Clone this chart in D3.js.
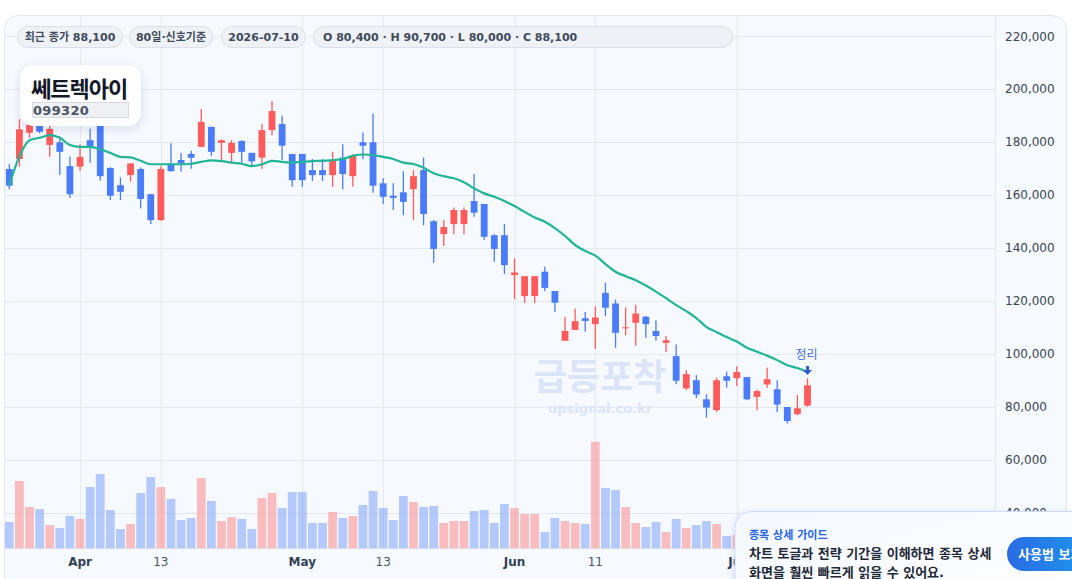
<!DOCTYPE html>
<html>
<head>
<meta charset="utf-8">
<script src="https://cdn.jsdelivr.net/npm/d3@7"></script>
<style>
  body { margin: 0; background: #ffffff; font-family: "DejaVu Sans", "Noto Sans CJK KR", sans-serif; }
  svg { display: block; }
</style>
</head>
<body>
<svg width="1072" height="579"></svg>
<script>
// daily candles, 80 trading days ending 2026-07-10
var opens = [169800,173600,183500,186500,178900,179900,170900,170700,180700,188000,
  170200,163700,167500,169800,160300,150500,171900,173200,175500,178200,
  185700,179700,175900,180400,175900,174100,184500,186800,175500,175500,
  169400,169400,167500,174100,167100,179900,179900,164400,159700,161000,
  162200,169400,150100,145200,149000,149000,157700,156600,144800,144800,
  129700,121800,121800,131000,123700,104900,109000,113400,111200,123000,
  119000,109700,111700,114000,108600,104100,99100,86900,90000,82800,
  78700,91500,90800,91200,83700,88400,86600,79900,77200,80400];
var highs = [171700,188600,189000,188000,187000,182000,174400,179200,185000,190000,
  170500,166600,172100,170400,160500,170900,179500,175900,176700,192500,
  185900,181000,180700,180700,176000,186800,195500,189900,175500,175500,
  173600,173600,176300,179200,175400,183600,190800,166300,164400,169000,
  169400,174100,150500,150500,155300,155300,167900,156600,145200,149000,
  136000,129300,129300,132900,123700,114000,117100,115800,118000,126800,
  120500,117500,118400,114300,112700,106700,103500,93800,91900,84700,
  91000,93200,95300,91200,86500,94700,90000,79900,84400,90700];
var lows = [162200,170700,181600,183300,174400,167500,158900,169100,172200,165400,
  158100,158100,165000,154900,149000,150300,168800,168800,169900,178000,
  174800,173200,172200,172200,171300,169800,182600,173200,163100,163100,
  165300,165300,163100,162200,163100,173500,160800,156600,154300,152400,
  150500,148600,134400,140700,145200,145200,151800,143000,134800,130100,
  120600,119200,119200,123600,115800,104900,109000,108300,101800,114300,
  102300,107000,103000,106100,104900,100700,88500,86300,83300,75900,
  78000,87300,87800,82500,78700,87100,78000,73700,76800,80000];
var closes = [163500,184800,186500,183900,185000,176300,160300,174400,178200,167100,
  159700,161200,171900,158500,150500,169800,169000,171900,174100,187600,
  176300,180700,179700,176300,172700,184500,191700,178600,165600,165600,
  167500,167500,173200,167900,174700,178600,163500,159300,158900,157400,
  167100,152800,139600,147900,154300,154300,153300,144200,139600,133500,
  130700,129300,129300,124900,119300,108600,112300,112400,113700,117400,
  107900,110000,115200,111200,106700,105100,89800,92300,84600,79700,
  90000,89800,93100,82800,85900,90400,80800,74600,79400,88100];
var volumes = [263000,673000,413000,393000,233000,203000,323000,293000,613000,743000,
  383000,193000,243000,553000,713000,613000,493000,283000,303000,703000,
  473000,273000,313000,293000,193000,503000,553000,403000,563000,563000,
  253000,253000,363000,303000,323000,433000,573000,403000,283000,523000,
  463000,413000,423000,253000,273000,273000,373000,383000,253000,443000,
  403000,343000,343000,163000,303000,273000,253000,243000,1066000,603000,
  583000,413000,253000,213000,263000,163000,293000,203000,233000,273000,
  243000,123000,133000,250000,220000,200000,300000,280000,240000,350000];
// moving average line as drawn
var maLine = [163700,174600,180700,181600,182600,181600,178900,178200,178200,177300,
  175900,174400,174200,172900,171600,171600,171600,171600,171800,172500,
  173100,172800,172200,171800,170900,171600,172900,172500,172200,172500,
  172800,172900,173200,173600,174800,175300,175100,174400,173600,172200,
  171700,170300,168200,167100,166300,164800,162500,160600,159300,157700,
  155800,153600,151500,149900,147500,144500,141100,138800,137100,133900,
  131000,129300,127800,125800,123500,121000,118400,116100,113500,110100,
  108200,106300,104600,102300,100800,99300,97600,95700,94600,93100];

var tickIdx = [7, 15, 29, 37, 50, 58, 72];
var tickText = ["Apr", "13", "May", "13", "Jun", "11", "Jul"];
var monthTicks = ["Apr", "May", "Jun", "Jul"];
var priceTicks = [40000, 60000, 80000, 100000, 120000, 140000, 160000, 180000, 200000, 220000];

var chipTexts = ["최근 종가 88,100", "80일·신호기준", "2026-07-10", "O 80,400 · H 90,700 · L 80,000 · C 88,100"];
var stockName = "쎄트렉아이";
var stockCode = "099320";

var svg = d3.select("svg");
var plotL = 4, plotR = 995, plotT = 15, plotB = 548.3;
var upColor = "#ff5b5b", downColor = "#4a7cfa";

var defs = svg.append("defs");
var sh = defs.append("filter").attr("id", "shadow").attr("x", "-30%").attr("y", "-30%").attr("width", "160%").attr("height", "180%");
sh.append("feDropShadow").attr("dx", 0).attr("dy", 3).attr("stdDeviation", 5).attr("flood-color", "#1e3a6e").attr("flood-opacity", 0.12);
var popGrad = defs.append("linearGradient").attr("id", "popGrad").attr("x1", 0).attr("y1", 0).attr("x2", 1).attr("y2", 1);
popGrad.append("stop").attr("offset", "0%").attr("stop-color", "#f4f8ff");
popGrad.append("stop").attr("offset", "100%").attr("stop-color", "#ffffff");
var btnGrad = defs.append("linearGradient").attr("id", "btnGrad").attr("x1", 0).attr("y1", 0).attr("x2", 1).attr("y2", 0);
btnGrad.append("stop").attr("offset", "0%").attr("stop-color", "#2b6be6");
btnGrad.append("stop").attr("offset", "100%").attr("stop-color", "#18a4ee");

// card
svg.append("rect").attr("x", 4.5).attr("y", 15.5).attr("width", 1062).attr("height", 620).attr("rx", 14)
  .attr("fill", "#f6f9fe").attr("stroke", "#e2e7ef");

var n = closes.length;
var x = d3.scaleBand().domain(d3.range(n)).range([4.25, 4.25 + n * 10.104]).paddingInner(0.13).paddingOuter(0.065);
var y = d3.scaleLinear().domain([26500, 228000]).range([plotB, plotT]);
var yv = d3.scaleLinear().domain([0, 1200000]).range([plotB, plotB - 120]);
function cx(i) { return x(i) + x.bandwidth() / 2; }

// grid
svg.append("g").selectAll("line").data(priceTicks).enter().append("line")
  .attr("x1", plotL).attr("x2", plotR)
  .attr("y1", function (d) { return Math.round(y(d)) + 0.5; })
  .attr("y2", function (d) { return Math.round(y(d)) + 0.5; })
  .attr("stroke", "#e4e8ef").attr("stroke-width", 1);
svg.append("g").selectAll("line").data(tickIdx).enter().append("line")
  .attr("x1", function (d) { return Math.round(cx(d)) + 0.5; })
  .attr("x2", function (d) { return Math.round(cx(d)) + 0.5; })
  .attr("y1", plotT).attr("y2", plotB)
  .attr("stroke", "#e4e8ef").attr("stroke-width", 1);
svg.append("line").attr("x1", plotL).attr("x2", plotR).attr("y1", 548.5).attr("y2", 548.5).attr("stroke", "#e4e8ef");
svg.append("line").attr("x1", 995.5).attr("x2", 995.5).attr("y1", plotT).attr("y2", 579).attr("stroke", "#e2e7ef");

// watermark
svg.append("text").attr("x", 600).attr("y", 377).attr("text-anchor", "middle").attr("dominant-baseline", "central")
  .attr("font-size", 36).attr("font-weight", 700).attr("fill", "#dbe5f8").text("급등포착");
svg.append("text").attr("x", 600).attr("y", 408).attr("text-anchor", "middle").attr("dominant-baseline", "central")
  .attr("font-size", 13).attr("font-weight", 700).attr("fill", "#dbe5f8").text("upsignal.co.kr");

// volume
svg.append("g").selectAll("rect").data(volumes).enter().append("rect")
  .attr("x", function (d, i) { return x(i); })
  .attr("y", function (d) { return yv(d); })
  .attr("width", x.bandwidth())
  .attr("height", function (d) { return plotB - yv(d); })
  .attr("fill", function (d, i) { return closes[i] >= opens[i] ? upColor : downColor; })
  .attr("fill-opacity", 0.38);

// candles
var bodyW = 6.8;
var cg = svg.append("g").selectAll("g").data(closes).enter().append("g");
cg.append("line")
  .attr("x1", function (d, i) { return cx(i); })
  .attr("x2", function (d, i) { return cx(i); })
  .attr("y1", function (d, i) { return y(highs[i]); })
  .attr("y2", function (d, i) { return y(lows[i]); })
  .attr("stroke", function (d, i) { return d >= opens[i] ? upColor : downColor; })
  .attr("stroke-width", 1.3);
cg.append("rect")
  .attr("x", function (d, i) { return cx(i) - bodyW / 2; })
  .attr("y", function (d, i) { return y(Math.max(d, opens[i])); })
  .attr("width", bodyW)
  .attr("height", function (d, i) { return Math.max(1, Math.abs(y(d) - y(opens[i]))); })
  .attr("fill", function (d, i) { return d >= opens[i] ? upColor : downColor; });

// moving average
var line = d3.line().x(function (d, i) { return cx(i); }).y(function (d) { return y(d); }).curve(d3.curveMonotoneX);
svg.append("path").datum(maLine).attr("d", line).attr("fill", "none")
  .attr("stroke", "#1fb596").attr("stroke-width", 2.2).attr("stroke-linejoin", "round");

// signal marker on last candle
var last = n - 1;
svg.append("text").attr("x", cx(last) - 1).attr("y", 355).attr("text-anchor", "middle").attr("dominant-baseline", "central")
  .attr("font-size", 12).attr("fill", "#4b6fd6").text("정리");
svg.append("path")
  .attr("d", "M" + (cx(last) - 1.5) + ",366 h3 v4 h3 l-4.5,5 l-4.5,-5 h3 z")
  .attr("fill", "#2d5bd9");

// axes
var yAxis = d3.axisRight(y).tickValues(priceTicks).tickSize(0).tickPadding(10).tickFormat(d3.format(","));
var ya = svg.append("g").attr("transform", "translate(995,0)").call(yAxis);
ya.select(".domain").remove();
ya.selectAll("text").attr("font-size", 12).attr("fill", "#3b4452").attr("font-family", "DejaVu Sans");

var xAxis = d3.axisBottom(x).tickValues(tickIdx).tickSize(0).tickPadding(9)
  .tickFormat(function (d) { return tickText[tickIdx.indexOf(d)]; });
var xa = svg.append("g").attr("transform", "translate(0,548)").call(xAxis);
xa.select(".domain").remove();
xa.selectAll("text").attr("font-size", 12).attr("font-family", "DejaVu Sans")
  .attr("font-weight", function (d) { return monthTicks.indexOf(tickText[tickIdx.indexOf(d)]) >= 0 ? 700 : 400; })
  .attr("fill", function (d) { return monthTicks.indexOf(tickText[tickIdx.indexOf(d)]) >= 0 ? "#334155" : "#4b5563"; });

// header chips
var chipX = [17.5, 129.5, 221.5, 313.5];
var chipW = [105, 83, 84, 419];
var chips = svg.append("g").selectAll("g").data(chipTexts).enter().append("g");
chips.append("rect")
  .attr("x", function (d, i) { return chipX[i]; }).attr("y", 26.5)
  .attr("width", function (d, i) { return chipW[i]; }).attr("height", 21).attr("rx", 10.5)
  .attr("fill", "#eef1f6").attr("stroke", "#dce1e9");
chips.append("text")
  .attr("x", function (d, i) { return i < 3 ? chipX[i] + chipW[i] / 2 : chipX[i] + 9.5; })
  .attr("y", 37.5).attr("dominant-baseline", "central")
  .attr("text-anchor", function (d, i) { return i < 3 ? "middle" : "start"; })
  .attr("font-size", 11).attr("font-weight", 700).attr("fill", "#3f4a5b")
  .text(function (d) { return d; });

// name box
var nb = svg.append("g");
nb.append("rect").attr("x", 20).attr("y", 65).attr("width", 121).attr("height", 61).attr("rx", 14)
  .attr("fill", "#ffffff").attr("filter", "url(#shadow)");
nb.append("text").attr("x", 31).attr("y", 87).attr("dominant-baseline", "central")
  .attr("font-size", 22).attr("font-weight", 700).attr("fill", "#111827")
  .attr("font-family", "Noto Sans CJK KR").attr("letter-spacing", -1).text(stockName);
nb.append("rect").attr("x", 32.5).attr("y", 102.5).attr("width", 96).attr("height", 15)
  .attr("fill", "#eef0f4").attr("stroke", "#d5d9e0");
nb.append("text").attr("x", 33).attr("y", 110.5).attr("dominant-baseline", "central")
  .attr("font-size", 13).attr("font-weight", 700).attr("fill", "#4b5563").attr("letter-spacing", 0.3).text(stockCode);

// guide popup
var pop = svg.append("g");
pop.append("rect").attr("x", 735).attr("y", 511.5).attr("width", 360).attr("height", 100).attr("rx", 16)
  .attr("fill", "url(#popGrad)").attr("stroke", "#cddcf6").attr("filter", "url(#shadow)");
pop.append("text").attr("x", 749).attr("y", 535).attr("dominant-baseline", "central")
  .attr("font-size", 11).attr("font-weight", 700).attr("fill", "#2563eb").text("종목 상세 가이드");
pop.append("text").attr("x", 749).attr("y", 553.5).attr("dominant-baseline", "central")
  .attr("font-size", 13).attr("font-weight", 700).attr("fill", "#1f2937").text("차트 토글과 전략 기간을 이해하면 종목 상세");
pop.append("text").attr("x", 749).attr("y", 572.5).attr("dominant-baseline", "central")
  .attr("font-size", 13).attr("font-weight", 700).attr("fill", "#1f2937").text("화면을 훨씬 빠르게 읽을 수 있어요.");
pop.append("rect").attr("x", 1007).attr("y", 537).attr("width", 110).attr("height", 34).attr("rx", 17)
  .attr("fill", "url(#btnGrad)");
pop.append("text").attr("x", 1018).attr("y", 554.5).attr("dominant-baseline", "central")
  .attr("font-size", 13).attr("font-weight", 700).attr("fill", "#ffffff").text("사용법 보기");
</script>
</body>
</html>
